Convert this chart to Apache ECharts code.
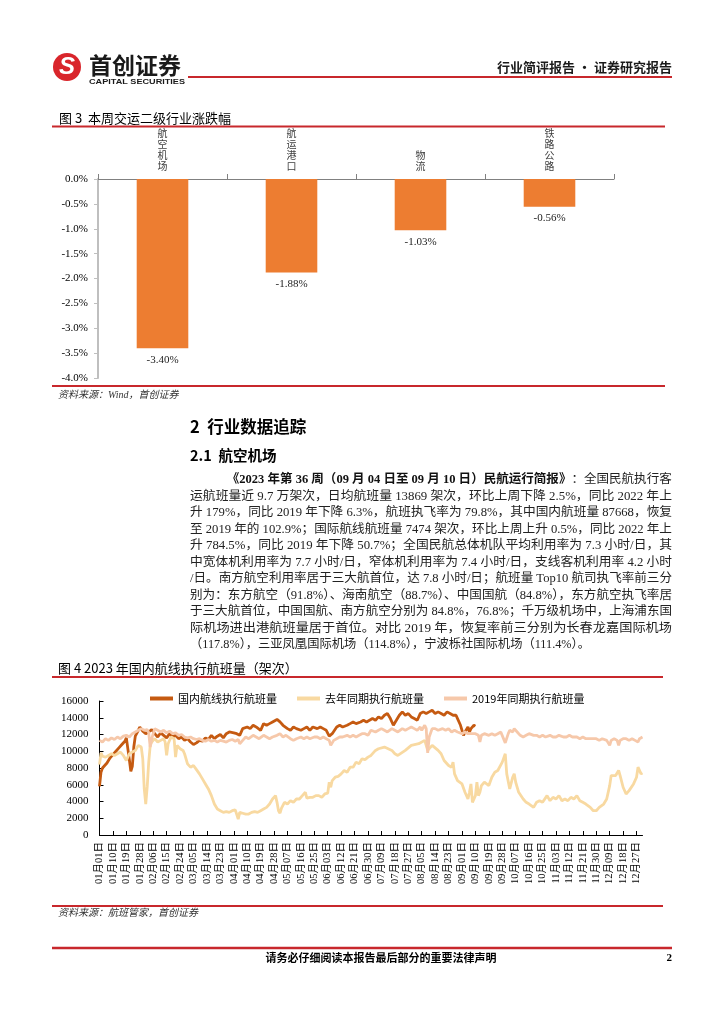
<!DOCTYPE html>
<html><head><meta charset="utf-8">
<script src="https://cdn.jsdelivr.net/npm/echarts@6/dist/echarts.min.js"></script>
<style>html,body{margin:0;padding:0;background:#fff}#c{width:724px;height:1024px}</style>
</head><body><div id="c"></div>
<script>
// ---------- Figure 3 data ----------
const barCategories = ['航空机场', '航运港口', '物流', '铁路公路'];
const barValues = [-3.40, -1.88, -1.03, -0.56];

// ---------- Figure 4 data ([day index, flights]) ----------
const monthDays = [31,28,31,30,31,30,31,31,30,31,30,31];
const dayLabels = [];
monthDays.forEach((n, m) => { for (let d = 1; d <= n; d++) dayLabels.push(String(m + 1).padStart(2, '0') + '月' + String(d).padStart(2, '0') + '日'); });

const seriesNames = ['国内航线执行航班量', '去年同期执行航班量', '2019年同期执行航班量'];

const flights2023 = [[0,5800],[1,7500],[2,8000],[3,8100],[5,8600],[7,9200],[9,9600],[11,10000],[13,10400],[15,10800],[17,11200],[18,11600],[19,11800],[20,9000],[21,7600],[22,8200],[23,10500],[24,11800],[26,12500],[27,12900],[29,12400],[31,12100],[33,12300],[35,12600],[37,12100],[39,11700],[41,12200],[43,11900],[45,11600],[47,12100],[49,11700],[51,11900],[53,11500],[55,11700],[57,11300],[59,11500],[61,11100],[63,10800],[65,11000],[67,11300],[69,11200],[71,11600],[73,11400],[75,11900],[77,11500],[79,11800],[81,12000],[83,11600],[85,12100],[87,12300],[90,12200],[92,12100],[94,11900],[96,12700],[99,12900],[101,12700],[103,13100],[105,12900],[108,12500],[110,13300],[112,13100],[114,13300],[116,13500],[119,13800],[121,13500],[123,13100],[126,12700],[128,12500],[130,12900],[132,12700],[135,12500],[137,12700],[139,12900],[141,12500],[143,12900],[146,12700],[148,12900],[150,12700],[152,12500],[154,11800],[156,12100],[159,12900],[161,13100],[163,12900],[166,13100],[168,13300],[170,13500],[172,13300],[175,13500],[177,13700],[179,13500],[181,13700],[183,13900],[185,13700],[187,14100],[189,13900],[191,14300],[193,14500],[195,13900],[197,13100],[199,13700],[201,14300],[203,14700],[205,14300],[207,14500],[209,14100],[211,13900],[213,13700],[215,14500],[217,14700],[219,14500],[221,14700],[223,14900],[225,14500],[227,14700],[229,14500],[231,14300],[233,14700],[235,14500],[237,14300],[239,14300],[240,13900],[242,13100],[244,11900],[245,12300],[247,12900],[248,12300],[249,12700],[251,13100],[252,13000]];

const flights2022 = [[0,8400],[1,9800],[2,9400],[4,9300],[6,9500],[8,9700],[10,9500],[12,9700],[14,9900],[16,9500],[18,8900],[20,9700],[22,9900],[24,10100],[26,10700],[27,10900],[28,10500],[29,9100],[30,5500],[31,3700],[32,5800],[33,8700],[34,10700],[35,11100],[37,11500],[39,11100],[41,11300],[43,11500],[44,11100],[45,9500],[46,10900],[48,11700],[50,11500],[51,9300],[52,10700],[54,10300],[56,10100],[57,9700],[59,8500],[61,8100],[63,8300],[65,7800],[67,7300],[69,6700],[71,6100],[73,5500],[75,4700],[77,3700],[79,3100],[81,2900],[83,2700],[85,2800],[87,2700],[89,2900],[91,3000],[92,2800],[93,1900],[94,2700],[96,2600],[98,2500],[100,2500],[102,2700],[104,2800],[106,2700],[108,2900],[110,3100],[112,3300],[114,3700],[116,4300],[118,4700],[119,3900],[120,2900],[121,2600],[122,3200],[124,3900],[126,3700],[128,4100],[130,3900],[132,4300],[134,4300],[136,4700],[138,5100],[139,4400],[141,4500],[143,4500],[145,4700],[147,4700],[149,4500],[151,4900],[153,5000],[154,6300],[155,5700],[156,6500],[158,6900],[160,7000],[162,7300],[164,7700],[166,7500],[168,8100],[170,8100],[172,8700],[174,8500],[176,9100],[178,9000],[180,9300],[182,9500],[185,10100],[187,10300],[191,10500],[196,10100],[198,9700],[200,9500],[205,10100],[209,10700],[214,10900],[218,11300],[220,10100],[223,10700],[227,10100],[229,9700],[231,8900],[234,8300],[236,8100],[237,8700],[238,7300],[240,6500],[243,6100],[245,5100],[247,4300],[248,5100],[249,6100],[250,3900],[252,4700],[253,6300],[254,4700],[255,5100],[256,5900],[258,6300],[261,5900],[263,6900],[265,7500],[267,7700],[270,8700],[272,9700],[273,7300],[275,5500],[276,5400],[277,6900],[278,7300],[279,6300],[281,5100],[282,4900],[284,4300],[286,3900],[288,3700],[291,3300],[293,3900],[295,4100],[297,3900],[300,4700],[302,4100],[304,4500],[306,4300],[308,4700],[310,4100],[312,4300],[314,4100],[316,4500],[318,4300],[320,4700],[322,4100],[324,3900],[326,3700],[329,3300],[331,2900],[332,2700],[333,2900],[335,3300],[338,3700],[340,4300],[342,5900],[343,7100],[344,7300],[346,7100],[348,7700],[349,7100],[351,5700],[353,4900],[355,5300],[358,6100],[359,6300],[360,6900],[361,8100],[362,7900],[363,7300],[364,7400]];

const flights2019 = [[0,11300],[2,11100],[4,11500],[6,11300],[8,11600],[10,11400],[12,11700],[14,11500],[16,11800],[18,11900],[20,11700],[22,12100],[24,12300],[26,12500],[28,12700],[30,12500],[32,12600],[33,12200],[34,10500],[35,11500],[37,12700],[39,12500],[41,12300],[43,12500],[45,12200],[47,12400],[49,12100],[51,12200],[53,11900],[55,12000],[57,11700],[59,11600],[61,11700],[63,11500],[65,11400],[67,11500],[69,11300],[71,11200],[73,11400],[75,11200],[77,11300],[79,11100],[81,11300],[83,11200],[85,11100],[87,11300],[89,11400],[91,11200],[93,11400],[94,10900],[96,11300],[98,11700],[100,11500],[103,11900],[105,11700],[107,11500],[110,11900],[112,11700],[114,11500],[116,11700],[119,11900],[121,12100],[123,11700],[125,11900],[128,11500],[130,11300],[132,11500],[135,11700],[137,11500],[139,11700],[141,11500],[144,11700],[146,11700],[148,11500],[150,11700],[152,11500],[154,11300],[155,10700],[157,11300],[159,11500],[161,11700],[163,11700],[166,11900],[168,11700],[170,11900],[172,11700],[174,11900],[176,12100],[178,12100],[180,11900],[182,12500],[185,12300],[187,12500],[189,12700],[191,12500],[193,12300],[196,12700],[198,12500],[200,12300],[203,12700],[205,12500],[207,12700],[209,12900],[211,12700],[213,12500],[215,12900],[216,12500],[218,13100],[219,12700],[220,9800],[221,11700],[223,12700],[225,12700],[227,12500],[230,12700],[232,12500],[234,12700],[236,12300],[238,12500],[240,12300],[243,12100],[245,12300],[247,12100],[249,12100],[252,12100],[254,11900],[255,11100],[256,11900],[258,12100],[261,11900],[263,12100],[265,11900],[267,12100],[269,12300],[270,12100],[272,11000],[273,10900],[274,12100],[275,12500],[277,12300],[278,12700],[280,12300],[282,11900],[284,11700],[286,11900],[288,12100],[291,11900],[293,11900],[295,11700],[297,11900],[299,11700],[302,11900],[304,11700],[306,11700],[308,11900],[311,11700],[313,11700],[315,11900],[317,11700],[320,11700],[322,11500],[324,11700],[326,11500],[328,11500],[331,11500],[333,11500],[335,11300],[337,11500],[340,11300],[342,10700],[343,11300],[345,11500],[347,11300],[348,10700],[349,11300],[351,11500],[353,11500],[355,11300],[357,11500],[359,11300],[361,11100],[362,11500],[364,11700]];

// ---------- Page text ----------
const paraBoldLead = '《2023 年第 36 周（09 月 04 日至 09 月 10 日）民航运行简报》';
const paraLines = [
  '：全国民航执行客',
  '运航班量近 9.7 万架次，日均航班量 13869 架次，环比上周下降 2.5%，同比 2022 年上',
  '升 179%，同比 2019 年下降 6.3%，航班执飞率为 79.8%，其中国内航班量 87668，恢复',
  '至 2019 年的 102.9%；国际航线航班量 7474 架次，环比上周上升 0.5%，同比 2022 年上',
  '升 784.5%，同比 2019 年下降 50.7%；全国民航总体机队平均利用率为 7.3 小时/日，其',
  '中宽体机利用率为 7.7 小时/日，窄体机利用率为 7.4 小时/日，支线客机利用率 4.2 小时',
  '/日。南方航空利用率居于三大航首位，达 7.8 小时/日；航班量 Top10 航司执飞率前三分',
  '别为：东方航空（91.8%）、海南航空（88.7%）、中国国航（84.8%），东方航空执飞率居',
  '于三大航首位，中国国航、南方航空分别为 84.8%，76.8%；千万级机场中，上海浦东国',
  '际机场进出港航班量居于首位。对比 2019 年，恢复率前三分别为长春龙嘉国际机场',
  '（117.8%），三亚凤凰国际机场（114.8%），宁波栎社国际机场（111.4%）。'
];

const SERIF = "'Liberation Serif','Noto Sans CJK SC'";
const SANS = "'Noto Sans CJK SC','Noto Sans'";
const RED = '#C8282C';

const mctx = document.createElement('canvas').getContext('2d');
function measure(font, text) { mctx.font = font; return mctx.measureText(text).width; }

const graphics = [];
function txt(x, y, text, font, fill, align, extra) {
  graphics.push(Object.assign({
    type: 'text', x: x, y: y, silent: true,
    style: { text: text, font: font, fill: fill || '#000', align: align || 'left', textAlign: align || 'left', verticalAlign: 'middle', textVerticalAlign: 'middle' }
  }, extra || {}));
}
function hline(x1, x2, y, w, color) {
  graphics.push({ type: 'line', silent: true, shape: { x1: x1, y1: y, x2: x2, y2: y }, style: { stroke: color || RED, lineWidth: w } });
}

// header
graphics.push({ type: 'circle', silent: true, shape: { cx: 67, cy: 67, r: 14 }, style: { fill: '#D9252B' } });
txt(67, 67, 'S', 'bold italic 24px "Liberation Sans"', '#fff', 'center');
txt(89, 65, '首创证券', 'bold 23px ' + SANS, '#1a1a1a', 'left');
{
  const f = 'bold 8px "Liberation Sans"';
  const w = measure(f, 'CAPITAL SECURITIES');
  txt(89, 82, 'CAPITAL SECURITIES', f, '#1a1a1a', 'left', { scaleX: 96 / w });
}
hline(188, 672, 77, 2, RED);
txt(672, 67, '行业简评报告 · 证券研究报告', 'bold 13px ' + SANS, '#1a1a1a', 'right');

// figure 3 frame
txt(59, 118, '图 3  本周交运二级行业涨跌幅', '13px ' + SANS, '#000', 'left');
hline(52, 665, 126.5, 1.8, RED);
hline(52, 665, 386, 1.8, RED);
txt(58, 395, '资料来源：Wind，首创证券', 'italic 10px ' + SERIF, '#333', 'left');

// section headings
txt(190, 427, '2  行业数据追踪', 'bold 16.5px ' + SANS, '#000', 'left');
txt(190, 455, '2.1  航空机场', 'bold 14.5px ' + SANS, '#000', 'left');

// paragraph
const PF = '12.5px ' + SERIF, PFB = 'bold 12.5px ' + SERIF;
paraLines.forEach((line, i) => {
  const y = 480 + 16.5 * i;
  if (i === 0) {
    const w = measure(PFB, paraBoldLead) + measure(PF, line);
    graphics.push({
      type: 'text', x: 226.7, y: y, silent: true, scaleX: 445 / w,
      style: {
        text: '{b|' + paraBoldLead + '}{n|' + line + '}',
        align: 'left', textAlign: 'left', verticalAlign: 'middle', textVerticalAlign: 'middle',
        rich: { b: { font: PFB, fill: '#111' }, n: { font: PF, fill: '#222' } }
      }
    });
  } else {
    const w = measure(PF, line);
    const target = (i === paraLines.length - 1) ? 400 : 482;
    txt(190, y, line, PF, '#222', 'left', { scaleX: target / w });
  }
});

// figure 4 frame
txt(58, 668, '图 4 2023 年国内航线执行航班量（架次）', '13px ' + SANS, '#000', 'left');
hline(52, 663, 677, 1.8, RED);
hline(52, 663, 906, 1.8, RED);
txt(58, 913, '资料来源：航班管家，首创证券', 'italic 10px ' + SERIF, '#333', 'left');

// footer
hline(52, 672, 948, 2.5, RED);
txt(381, 958, '请务必仔细阅读本报告最后部分的重要法律声明', 'bold 11px ' + SANS, '#000', 'center');
txt(672, 958, '2', 'bold 11px ' + SERIF, '#000', 'right');

const chart = echarts.init(document.getElementById('c'), null, { renderer: 'canvas' });
chart.setOption({
  animation: false,
  backgroundColor: '#fff',
  textStyle: { fontFamily: SERIF },
  grid: [
    { left: 98, top: 179, width: 516, height: 199, containLabel: false, outerBoundsMode: 'none' },
    { left: 99.5, top: 701, width: 543, height: 134, containLabel: false, outerBoundsMode: 'none' }
  ],
  legend: {
    data: seriesNames, left: 145, top: 688, icon: 'rect', itemWidth: 23, itemHeight: 4, itemGap: 20,
    textStyle: { fontSize: 11, color: '#000', fontFamily: SANS }
  },
  xAxis: [
    {
      type: 'category', gridIndex: 0, position: 'top', data: barCategories,
      axisLine: { show: true, lineStyle: { color: '#808080', width: 1 } },
      axisTick: { show: true, length: 5, lineStyle: { color: '#808080' } },
      axisLabel: { formatter: v => v.split('').join('\n'), fontSize: 10, lineHeight: 11, color: '#404040', fontFamily: SANS, margin: 7, interval: 0 },
      splitLine: { show: false }
    },
    {
      type: 'category', gridIndex: 1, data: dayLabels, boundaryGap: false,
      axisLine: { show: true, lineStyle: { color: '#000', width: 1 } },
      axisTick: { show: true, inside: true, interval: 8, length: 4, lineStyle: { color: '#000' } },
      axisLabel: { interval: 8, rotate: 90, fontSize: 10.5, color: '#000', fontFamily: SERIF, margin: 7 },
      splitLine: { show: false }
    }
  ],
  yAxis: [
    {
      type: 'value', gridIndex: 0, min: -4, max: 0, interval: 0.5,
      axisLine: { show: true, lineStyle: { color: '#BFBFBF', width: 2 } },
      axisTick: { show: true, length: 4, lineStyle: { color: '#BFBFBF' } },
      axisLabel: { formatter: v => v.toFixed(1) + '%', fontSize: 11, color: '#000', fontFamily: SERIF, margin: 10 },
      splitLine: { show: false }
    },
    {
      type: 'value', gridIndex: 1, min: 0, max: 16000, interval: 2000,
      axisLine: { show: true, lineStyle: { color: '#000', width: 1 } },
      axisTick: { show: true, inside: true, length: 4, lineStyle: { color: '#000' } },
      axisLabel: { formatter: v => String(v), fontSize: 11, color: '#000', fontFamily: SERIF, margin: 11 },
      splitLine: { show: false }
    }
  ],
  series: [
    {
      type: 'bar', xAxisIndex: 0, yAxisIndex: 0, data: barValues, barWidth: '40%',
      itemStyle: { color: '#ED7D31' },
      label: { show: true, position: 'bottom', distance: 6, formatter: p => p.value.toFixed(2) + '%', fontSize: 11, color: '#222', fontFamily: SERIF }
    },
    {
      name: seriesNames[0], type: 'line', xAxisIndex: 1, yAxisIndex: 1, data: flights2023,
      symbol: 'none', showSymbol: false, lineStyle: { color: '#C55A11', width: 2.8 }, itemStyle: { color: '#C55A11' }
    },
    {
      name: seriesNames[1], type: 'line', xAxisIndex: 1, yAxisIndex: 1, data: flights2022,
      symbol: 'none', showSymbol: false, lineStyle: { color: '#F8D9A1', width: 2.8 }, itemStyle: { color: '#F8D9A1' }
    },
    {
      name: seriesNames[2], type: 'line', xAxisIndex: 1, yAxisIndex: 1, data: flights2019,
      symbol: 'none', showSymbol: false, lineStyle: { color: '#F6C8AA', width: 2.8 }, itemStyle: { color: '#F6C8AA' }
    }
  ],
  graphic: graphics
});
</script></body></html>
